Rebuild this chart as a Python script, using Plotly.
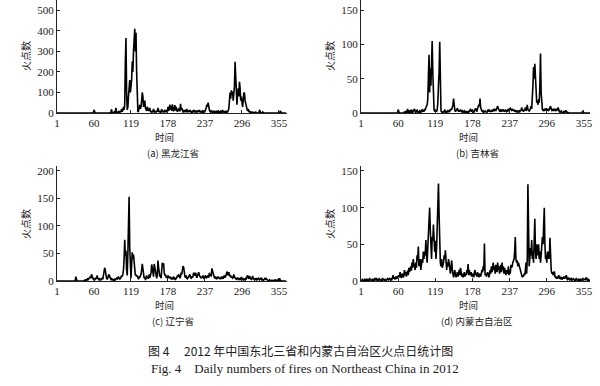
import plotly.graph_objects as go

# ---------------- data (daily fire counts, 2012, day 1..366) ----------------
heilongjiang = [
    0,0,0,0,0,0,0,0,0,0,  0,0,0,0,0,0,0,0,0,0,  0,0,0,0,0,0,0,0,0,0,
    0,0,0,0,0,0,0,0,0,0,  0,0,0,0,0,0,0,0,0,0,  0,0,0,0,0,0,0,0,0,15,
    0,0,0,0,0,0,0,0,0,0,  0,0,0,0,0,0,0,0,0,0,  0,0,0,0,3,0,5,18,2,0,
    0,4,0,8,25,3,0,2,6,10,  2,5,8,20,6,12,30,15,40,250,
    365,100,15,30,80,120,160,100,140,160,  250,200,300,400,410,300,390,200,40,5,
    10,25,40,20,30,60,100,80,30,40,  60,25,20,10,30,20,10,15,25,8,
    5,10,3,8,20,6,4,10,3,12,  5,25,8,4,10,3,6,18,5,10,
    3,8,15,4,6,12,5,30,10,20,  40,15,35,10,42,20,8,20,38,12,
    30,15,6,20,10,25,8,45,15,25,  10,5,8,15,4,10,6,20,3,8,
    12,5,15,6,3,10,4,8,15,6,  5,12,4,8,3,10,6,15,4,8,
    5,3,10,6,12,4,8,15,25,40,  30,50,20,15,8,4,10,5,3,8,
    4,10,3,6,2,8,5,12,3,6,  4,8,2,5,15,3,6,2,10,4,
    3,8,5,12,20,60,100,70,110,90,  105,60,100,130,249,150,80,40,100,120,
    80,152,120,60,80,50,30,60,100,95,  60,40,30,20,10,20,5,8,3,5,
    2,4,0,3,0,2,0,5,0,0,  3,0,0,15,2,0,0,0,5,0,
    0,0,2,0,0,0,0,0,0,0,  0,0,0,0,3,0,0,0,0,0,
    0,0,0,0,0,0,10,0,0,0,  0,0,0,0,0,0,
]

jilin = [
    0,0,0,0,0,0,0,0,0,0,  0,0,0,0,0,0,0,0,0,0,  0,0,0,0,0,0,0,0,0,0,
    0,0,0,0,0,0,0,0,0,0,  0,0,0,0,0,0,0,0,0,0,  0,0,0,0,0,0,0,0,0,5,
    0,0,0,0,0,0,0,0,0,2,  0,3,0,2,6,1,0,4,2,0,  5,2,0,3,4,6,2,0,3,4,
    2,0,1,3,2,0,5,2,4,3,  2,6,4,8,10,12,20,45,85,30,
    65,40,75,105,60,20,5,2,4,3,  2,5,15,40,60,104,20,3,2,0,
    2,0,3,4,2,0,1,3,2,3,  2,4,3,6,5,8,12,21,10,4,
    2,3,5,7,3,2,4,2,5,3,  2,3,1,2,3,1,2,1,2,1,
    2,1,3,4,6,2,3,4,2,1,  3,5,7,4,2,6,8,12,10,21,
    8,4,3,2,3,1,2,3,2,2,  1,3,5,2,4,3,2,3,4,2,
    3,5,4,6,3,5,8,10,7,4,  3,4,2,5,3,4,5,2,3,4,
    3,2,4,3,5,4,6,7,5,4,  6,4,3,5,2,3,2,4,2,1,
    2,3,1,4,3,8,5,3,2,4,  5,8,3,6,12,5,4,3,4,8,
    10,6,20,40,67,50,72,45,20,15,  18,12,20,15,40,87,30,8,5,4,
    6,3,5,4,7,3,5,6,4,5,  8,10,6,4,5,3,6,5,4,6,
    3,5,4,8,3,2,1,2,3,1,  0,1,2,0,3,4,2,0,1,0,
    0,0,0,0,0,0,0,0,0,0,  0,0,0,0,0,0,0,0,0,0,
    0,0,3,0,0,0,0,0,0,0,  0,0,0,0,0,0,
]

liaoning = [
    0,0,0,0,0,0,0,0,0,0,  0,0,0,0,0,0,0,0,0,0,  0,0,0,0,0,0,0,0,0,0,
    8,0,0,0,0,0,0,0,0,0,  0,0,0,0,2,0,3,0,2,5,  3,4,6,8,5,12,10,6,3,4,
    2,3,5,4,10,5,3,2,4,3,  2,4,5,3,8,15,24,20,10,5,  3,5,10,12,8,5,3,4,2,3,
    2,1,3,2,4,5,3,6,8,5,  3,5,6,10,8,12,20,40,75,45,
    55,20,10,50,100,153,60,10,5,30,  52,40,48,35,20,10,12,8,10,5,
    3,8,6,10,12,20,31,22,15,5,  6,3,4,10,5,8,4,12,6,10,
    15,30,20,10,8,31,25,12,8,5,  10,37,25,12,8,10,5,20,33,30,
    32,15,10,12,6,8,5,10,7,5,  8,6,4,5,3,6,8,4,5,3,
    4,6,10,8,12,10,5,8,15,12,  20,27,25,10,8,6,10,5,4,6,
    8,10,12,6,5,8,6,10,15,12,  10,15,8,6,10,12,16,10,8,6,
    5,8,6,10,4,6,8,10,5,6,  8,10,6,15,10,12,8,23,18,10,
    8,6,5,8,6,4,5,8,6,5,  4,6,5,8,6,4,8,10,6,8,
    12,17,15,10,16,12,8,10,6,8,  5,6,12,8,5,4,3,5,4,6,
    3,4,2,6,7,5,3,2,4,3,  2,5,4,8,10,6,4,9,5,3,
    2,4,9,5,3,2,4,3,5,2,  3,5,4,2,3,6,4,2,3,1,
    2,3,6,2,4,2,1,0,1,2,  0,1,0,2,0,1,0,0,3,0,
    1,0,2,0,0,5,0,1,0,0,  0,0,0,0,0,0,
]

neimenggu = [
    1,0,2,1,0,1,3,1,0,2,  1,2,0,1,3,2,1,0,2,1,  2,1,3,2,4,1,0,2,1,3,
    2,1,0,2,1,3,2,1,2,0,  1,2,3,1,2,4,2,1,3,2,  4,8,3,5,2,6,4,3,7,5,
    8,5,12,6,4,8,10,5,7,15,  8,12,6,10,14,8,18,12,15,20,  14,25,18,30,22,20,15,25,18,35,
    28,47,20,25,30,15,22,30,25,40,  30,40,35,56,35,25,45,60,80,100,
    70,40,30,60,55,77,50,40,55,30,  45,80,110,133,90,40,25,20,30,18,
    22,25,35,30,42,20,15,25,20,30,  22,15,10,20,28,15,8,5,10,15,
    8,5,8,12,6,10,15,8,18,12,  6,10,5,8,12,6,10,8,15,10,
    23,8,15,10,8,12,6,10,8,5,  12,15,8,10,6,12,8,5,10,8,
    6,10,15,12,20,15,51,8,10,6,  8,12,10,5,8,15,10,20,12,18,
    25,15,20,10,22,18,12,25,15,20,  10,18,22,12,25,15,20,10,18,12,
    8,15,10,12,20,8,15,10,22,18,  20,25,28,30,40,60,30,25,28,20,
    25,22,18,15,10,8,5,8,6,10,  8,15,25,10,30,132,40,20,30,45,
    35,56,30,40,25,50,85,40,30,50,  45,35,50,30,40,25,35,45,60,50,
    70,100,50,30,35,25,40,30,40,30,  59,25,15,10,12,8,10,13,6,5,
    4,6,3,5,8,4,3,6,2,5,  3,4,6,3,5,4,8,3,2,4,
    3,2,4,2,3,1,2,3,2,1,  2,1,3,2,1,2,1,3,1,2,
    1,2,3,1,2,2,3,1,5,2,  1,2,1,0,1,2,
]

x_ticks = [1, 60, 119, 178, 237, 296, 355]
panel_labels = ["(a) 黑龙江省", "(b) 吉林省", "(c) 辽宁省", "(d) 内蒙古自治区"]
y_ticks = [[0, 100, 200, 300, 400, 500], [0, 50, 100, 150], [0, 50, 100, 150, 200], [0, 50, 100, 150]]
y_title = "火点数"
x_title = "时间"
caption_cn = "图 4　 2012 年中国东北三省和内蒙古自治区火点日统计图"
caption_en = "Fig. 4    Daily numbers of fires on Northeast China in 2012"

series = [heilongjiang, jilin, liaoning, neimenggu]

# ---------------- layout geometry (pixels) ----------------
W, H = 600, 386
def fy(px):
    return 1 - px / H

panels = [
    dict(x0=57, x1=287, ytop=0, ybot=113, xr=[1, 367.8], yr=[0, 550]),
    dict(x0=361, x1=590, ytop=0, ybot=113, xr=[1, 364.6], yr=[0, 165]),
    dict(x0=57, x1=287, ytop=166, ybot=281, xr=[1, 367.8], yr=[0, 209]),
    dict(x0=361, x1=590, ytop=166, ybot=281, xr=[1, 364.6], yr=[0, 156.8]),
]

CJK = "Noto Sans CJK SC"
SERIF = "Liberation Serif"

fig = go.Figure()
layout = dict(
    width=W, height=H, margin=dict(l=0, r=0, t=0, b=0),
    paper_bgcolor="white", plot_bgcolor="white", showlegend=False,
)
annotations = []

for i, (p, vals) in enumerate(zip(panels, series)):
    n = i + 1
    xa = "xaxis" if n == 1 else f"xaxis{n}"
    ya = "yaxis" if n == 1 else f"yaxis{n}"
    days = list(range(1, len(vals) + 1))
    fig.add_trace(go.Scatter(
        x=days, y=vals, mode="lines",
        line=dict(color="black", width=1.6),
        xaxis="x" if n == 1 else f"x{n}",
        yaxis="y" if n == 1 else f"y{n}",
        hoverinfo="skip",
    ))
    layout[xa] = dict(
        domain=[p["x0"] / W, p["x1"] / W], range=p["xr"],
        anchor="y" if n == 1 else f"y{n}",
        tickmode="array", tickvals=x_ticks, ticktext=[str(t) for t in x_ticks],
        showline=True, linecolor="#222", linewidth=1,
        ticks="inside", ticklen=3, tickcolor="#222",
        showgrid=False, zeroline=False, automargin=False,
        tickfont=dict(family=SERIF, size=11, color="#222"),
    )
    layout[ya] = dict(
        domain=[fy(p["ybot"]), fy(p["ytop"])], range=p["yr"],
        anchor="x" if n == 1 else f"x{n}",
        tickmode="array", tickvals=y_ticks[i],
        showline=True, linecolor="#222", linewidth=1,
        ticks="inside", ticklen=3, tickcolor="#222",
        showgrid=False, zeroline=False, automargin=False,
        tickfont=dict(family=SERIF, size=11, color="#222"),
    )
    # y title
    annotations.append(dict(
        text=y_title, x=(p["x0"] - 31) / W, y=fy(p["ybot"] - 57),
        xref="paper", yref="paper", showarrow=False, textangle=-90,
        xanchor="center", yanchor="middle",
        font=dict(family=CJK, size=10, color="#222"),
    ))
    # x title
    annotations.append(dict(
        text=x_title, x=(p["x0"] + 107) / W, y=fy(p["ybot"] + 24),
        xref="paper", yref="paper", showarrow=False,
        xanchor="center", yanchor="middle",
        font=dict(family=CJK, size=9.5, color="#222"),
    ))
    # panel label
    annotations.append(dict(
        text=panel_labels[i], x=(p["x0"] + 116) / W, y=fy(p["ybot"] + 40),
        xref="paper", yref="paper", showarrow=False,
        xanchor="center", yanchor="middle",
        font=dict(family=CJK, size=9.5, color="#222"),
    ))

annotations.append(dict(
    text=caption_cn, x=0.5, y=fy(350), xref="paper", yref="paper",
    showarrow=False, xanchor="center", yanchor="middle",
    font=dict(family=CJK, size=12, color="#222"),
))
annotations.append(dict(
    text=caption_en, x=0.508, y=fy(368), xref="paper", yref="paper",
    showarrow=False, xanchor="center", yanchor="middle",
    font=dict(family=SERIF, size=13, color="#222"),
))

layout["annotations"] = annotations
fig.update_layout(**layout)
fig.write_html(
    "out.html",
    config={"displayModeBar": False},
    post_script="document.body.style.margin='0';document.body.style.padding='0';document.body.style.overflow='hidden';",
)
